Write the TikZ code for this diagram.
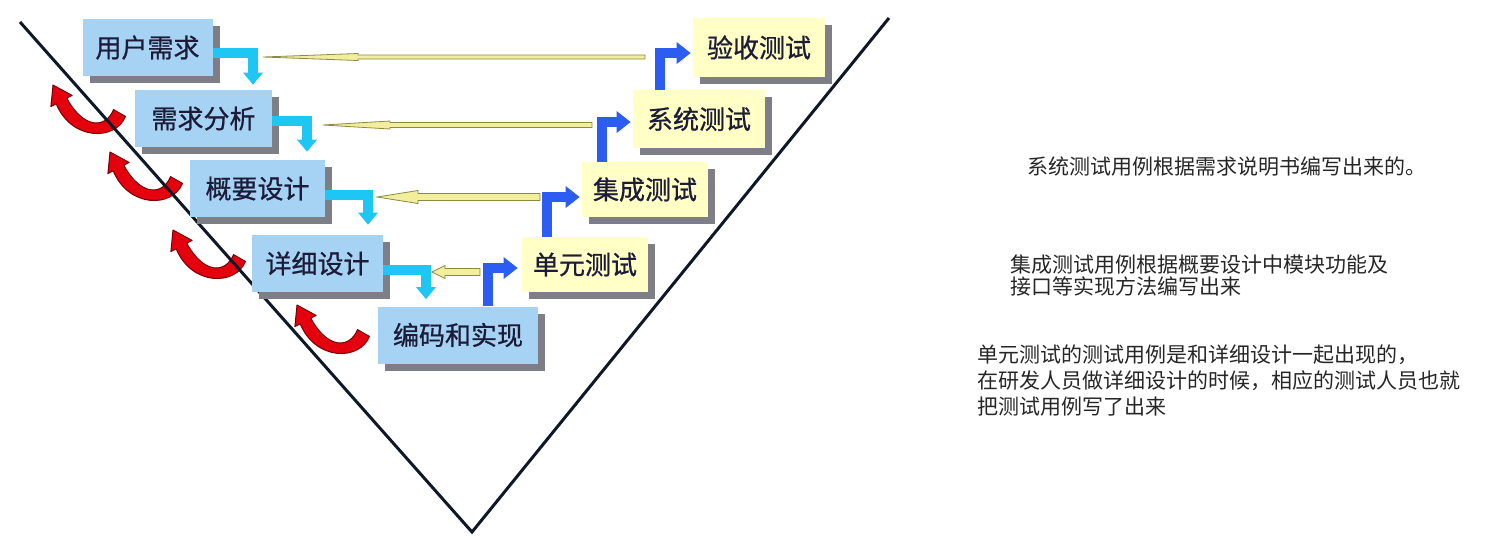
\documentclass[tikz,border=0pt]{standalone}
\usepackage{fontspec}
\newfontfamily\cjk{Noto Sans CJK SC}
\newfontfamily\cjkheavy{Noto Sans CJK SC}[FakeBold=0.8]
\usetikzlibrary{arrows.meta,calc,shadows}

\definecolor{boxblue}{HTML}{A6D2F3}
\definecolor{boxyellow}{HTML}{FFFFC6}
\definecolor{shadowgray}{HTML}{7E7E86}
\definecolor{textnavy}{HTML}{1C1C38}
\definecolor{flowcyan}{HTML}{1EC6F4}
\definecolor{flowblue}{HTML}{2C5CF2}
\definecolor{turnred}{HTML}{E4000C}
\definecolor{turnedge}{HTML}{7A0008}
\definecolor{needlefill}{HTML}{F2EE9E}
\definecolor{needleedge}{HTML}{8C8A40}
\definecolor{notegray}{HTML}{262626}
\definecolor{vcolor}{HTML}{101828}

\tikzset{
  stage/.style={rectangle, inner sep=0pt, minimum height=28.5pt, text=textnavy,
    font=\cjkheavy\fontsize{13pt}{15pt}\selectfont,
    drop shadow={shadow xshift=3.5pt, shadow yshift=-3.5pt, fill=shadowgray, opacity=1}},
  devstage/.style={stage, fill=boxblue},
  teststage/.style={stage, fill=boxyellow},
  downflow/.style={draw=flowcyan, line width=5pt, line join=miter,
    -{Triangle[width=10pt,length=6pt,line width=0pt]}},
  upflow/.style={draw=flowblue, line width=5pt, line join=miter,
    -{Triangle[width=11pt,length=7pt,line width=0pt]}},
  note/.style={anchor=base west, inner sep=0pt, align=left, text=notegray,
    font=\cjk\fontsize{10.5pt}{13pt}\selectfont},
  vline/.style={draw=vcolor, line width=1.5pt, line join=miter},
  % long tapered feedback arrow, tip at the origin, pointing left
  pics/needle/.style n args={4}{code={
    \fill[needlefill, draw=needleedge, line width=0.4pt]
      (0,0) -- (#2,#4) -- (#2,#3) -- (#1,#3) -- (#1,-#3) -- (#2,-#3) -- (#2,-#4) -- cycle;
  }},
  % curved return arrow, tip at the origin
  pics/uturn/.style={code={
    \fill[turnred, draw=turnedge, line width=0.5pt, line join=round]
      (0,0) -- (-2.1,21.6) -- (3.2,18.8)
      .. controls (18.5,56) and (62.5,56) .. (72.5,31.4)
      -- (60.5,24.6)
      .. controls (52.5,44) and (30.5,44) .. (13.8,13.2)
      -- (19.1,10.4) -- cycle;
  }}
}

\begin{document}
\begin{tikzpicture}[x=0.5pt,y=-0.5pt]
\useasboundingbox (0,0) rectangle (1485,538);

% return arrows on the left branch
\pic at (53,85) {uturn};
\pic at (110,152) {uturn};
\pic at (173,230) {uturn};
\pic at (297,305) {uturn};

% the V
\coordinate (vl) at (20,22);
\coordinate (vb) at (472,532);
\coordinate (vr) at (889,18);
\draw[vline] (vl) -- (vb) -- (vr);

% development stages
\node[devstage, minimum width=65pt]   (u1) at (147.5,47.5) {用户需求};
\node[devstage, minimum width=68.5pt] (u2) at (203.5,118.5) {需求分析};
\node[devstage, minimum width=67.5pt] (u3) at (257.5,188.5) {概要设计};
\node[devstage, minimum width=65.5pt] (u4) at (317.5,263.5) {详细设计};
\node[devstage, minimum width=80pt]   (u5) at (458,335) {编码和实现};

% test stages
\node[teststage, minimum width=63pt, minimum height=27.5pt] (t1) at (585,264.5) {单元测试};
\node[teststage, minimum width=63pt, minimum height=27.5pt] (t2) at (645,189.5) {集成测试};
\node[teststage, minimum width=66pt, minimum height=29pt]   (t3) at (699,119) {系统测试};
\node[teststage, minimum width=66pt, minimum height=29.5pt] (t4) at (759,47.5) {验收测试};

% downward flow
\draw[downflow] ($(u1.east)+(0,5)$)   -| ($(u2.north)+(49.5,-5)$);
\draw[downflow] ($(u2.east)+(0,2.5)$) -| ($(u3.north)+(49.5,-8)$);
\draw[downflow] ($(u3.east)+(0,6.5)$) -| ($(u4.north)+(50.5,-10)$);
\draw[downflow] ($(u4.east)+(0,6.5)$) -| ($(u5.north)+(-32,-7)$);

% upward flow
\draw[upflow] ($(u5.north)+(30,0)$)  |- ($(t1.west)+(-4,3.5)$);
\draw[upflow] ($(t1.north)+(-38,0)$) |- ($(t2.west)+(-2,7.5)$);
\draw[upflow] ($(t2.north)+(-43,0)$) |- ($(t3.west)+(-2,3)$);
\draw[upflow] ($(t3.north)+(-39,0)$) |- ($(t4.west)+(-2,5.5)$);

% feedback from tests to design levels
\pic at (263,57)  {needle={382}{95}{2}{3.5}};
\pic at (323,125) {needle={269}{67}{2.5}{4}};
\pic at (377,197) {needle={163}{41}{3.5}{6.5}};
\pic at (432,272) {needle={48}{13}{3.5}{6.5}};

% notes (base anchor sits on the last line)
\node[note] (na) at (1027,174) {系统测试用例根据需求说明书编写出来的。};
\node[note, font=\cjk\fontsize{10.5pt}{11pt}\selectfont] (nb) at (1010,294)
  {集成测试用例根据概要设计中模块功能及\\接口等实现方法编写出来};
\node[note] (nc) at (977,414)
  {单元测试的测试用例是和详细设计一起出现的，\\在研发人员做详细设计的时候，相应的测试人员也就\\把测试用例写了出来};
\end{tikzpicture}
\end{document}
